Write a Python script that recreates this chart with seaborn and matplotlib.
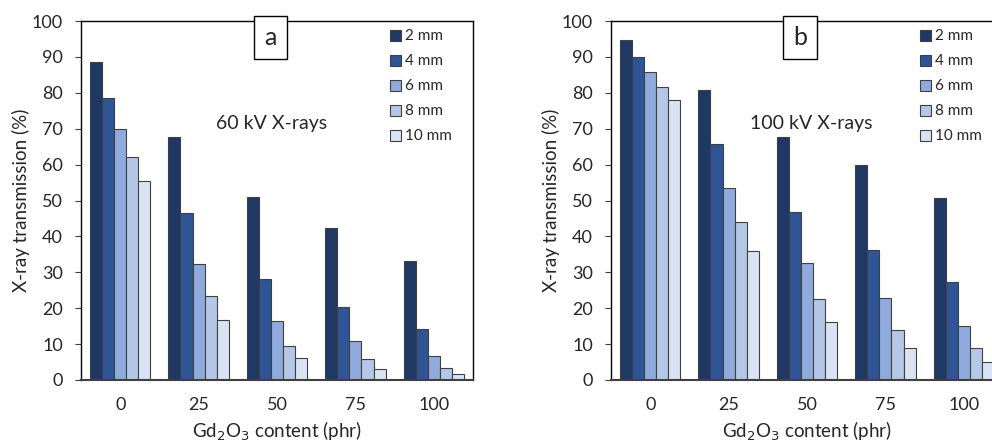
import matplotlib
matplotlib.use("Agg")
import matplotlib.pyplot as plt
import seaborn as sns
import pandas as pd
from matplotlib.patches import Patch

sns.set_theme(style="white")
plt.rcParams['font.family'] = ['Lato', 'DejaVu Sans']

contents = ["0", "25", "50", "75", "100"]
thickness = ["2 mm", "4 mm", "6 mm", "8 mm", "10 mm"]
colors = ["#203864", "#2F5597", "#8FAADC", "#B4C7E7", "#DAE3F3"]

# panel a: 60 kV
a_2mm = [88.5, 67.8, 50.9, 42.4, 33.1]
a_4mm = [78.5, 46.5, 28.1, 20.3, 14.1]
a_6mm = [69.8, 32.4, 16.4, 10.9, 6.6]
a_8mm = [62.2, 23.3, 9.6, 5.8, 3.4]
a_10mm = [55.3, 16.6, 6.2, 3.2, 1.6]

# panel b: 100 kV
b_2mm = [94.6, 80.7, 67.8, 59.8, 50.6]
b_4mm = [90.0, 65.7, 46.8, 36.3, 27.4]
b_6mm = [85.8, 53.4, 32.7, 22.9, 15.0]
b_8mm = [81.6, 44.1, 22.6, 14.0, 9.0]
b_10mm = [78.0, 35.9, 16.1, 9.0, 5.0]


def make_df(series):
    rows = []
    for t, vals in zip(thickness, series):
        for c, v in zip(contents, vals):
            rows.append({"content": c, "thickness": t, "value": v})
    return pd.DataFrame(rows)


df_a = make_df([a_2mm, a_4mm, a_6mm, a_8mm, a_10mm])
df_b = make_df([b_2mm, b_4mm, b_6mm, b_8mm, b_10mm])

fig = plt.figure(figsize=(9.92, 4.45), dpi=100)
W, H = 992, 445
ax_a = fig.add_axes([81 / W, (445 - 380) / H, 392 / W, 359 / H])
ax_b = fig.add_axes([611 / W, (445 - 380) / H, 392 / W, 359 / H])


def draw(ax, df, letter, label, label_x):
    sns.barplot(data=df, x="content", y="value", hue="thickness",
                hue_order=thickness, order=contents, palette=colors,
                width=0.77, edgecolor="#404040", linewidth=0.8,
                saturation=1, legend=False, ax=ax)
    ax.set_ylim(0, 100)
    ax.set_xlim(-0.5, 4.5)
    ax.set_yticks(range(0, 101, 10))
    ax.tick_params(axis="y", which="major", direction="out", length=4,
                   width=0.8, color="#404040", labelsize=13, left=True, pad=9)
    ax.tick_params(axis="x", length=0, labelsize=13, pad=12)
    for s in ax.spines.values():
        s.set_visible(True)
        s.set_color("black")
        s.set_linewidth(1.0)
    ax.spines["bottom"].set_color("#404040")
    ax.spines["bottom"].set_linewidth(1.5)
    ax.set_xlabel("Gd$_2$O$_3$ content (phr)", fontsize=13.5, labelpad=5)
    ax.set_ylabel("X-ray transmission (%)", fontsize=13.5, labelpad=1)
    ax.text(0.483, 0.985, letter, transform=ax.transAxes, ha="center",
            va="top", fontsize=18,
            bbox=dict(boxstyle="square,pad=0.4", facecolor="white",
                      edgecolor="black", linewidth=1.0))
    ax.text(label_x, 0.715, label, transform=ax.transAxes, ha="center",
            va="center", fontsize=14)
    handles = [Patch(facecolor=c, edgecolor="#404040", linewidth=0.8, label=t)
               for c, t in zip(colors, thickness)]
    ax.legend(handles=handles, loc="upper left", bbox_to_anchor=(0.78, 0.985),
              frameon=False, fontsize=11, handlelength=0.75, handleheight=0.75,
              handletextpad=0.25, labelspacing=0.72, borderaxespad=0.0,
              borderpad=0.2)


draw(ax_a, df_a, "a", "60 kV X-rays", 0.485)
draw(ax_b, df_b, "b", "100 kV X-rays", 0.51)

fig.savefig("out.png", dpi=100)
